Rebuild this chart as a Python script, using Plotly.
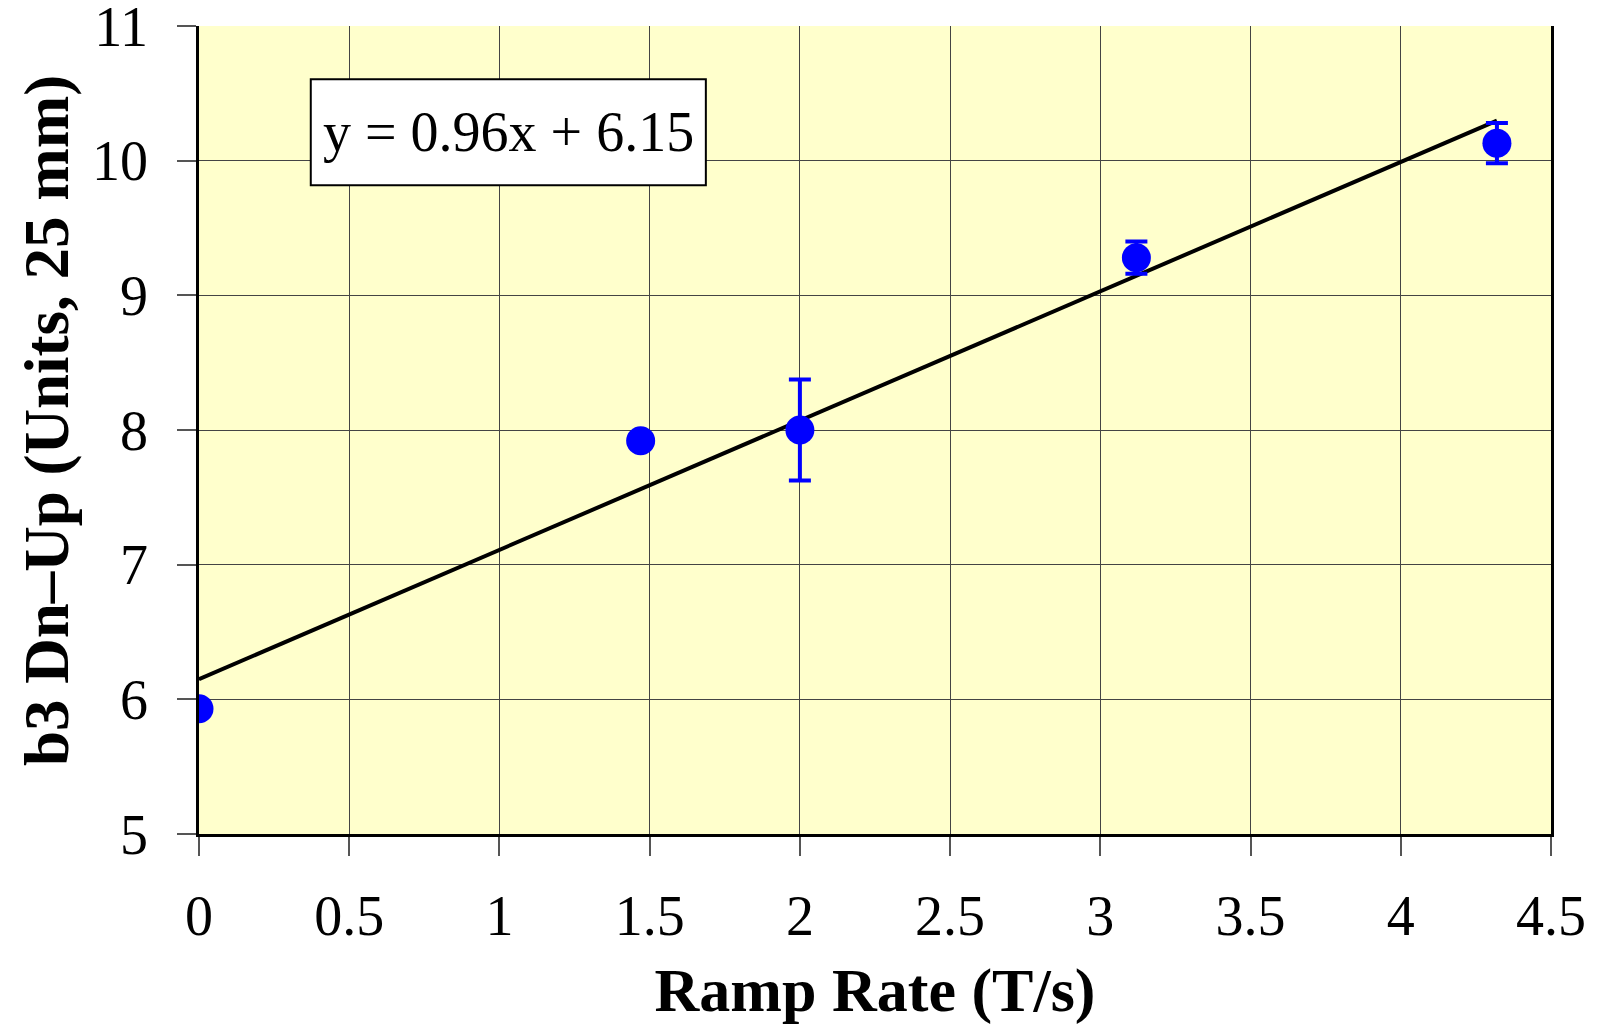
import plotly.graph_objects as go

# Data
ramp_rate = [0.0, 1.47, 2.0, 3.12, 4.32]
b3_dn_up = [5.93, 7.92, 8.0, 9.28, 10.13]
b3_err = [0.0, 0.0, 0.375, 0.12, 0.15]

# Linear trendline shown in the chart: y = 0.96x + 6.15
fit_slope = 0.96
fit_intercept = 6.15
fit_x = [min(ramp_rate), max(ramp_rate)]
fit_y = [fit_slope * v + fit_intercept for v in fit_x]
equation_text = "y = 0.96x + 6.15"

x_ticks = [0, 0.5, 1, 1.5, 2, 2.5, 3, 3.5, 4, 4.5]
y_ticks = [5, 6, 7, 8, 9, 10, 11]

x_title = "Ramp Rate (T/s)"
y_title = "b3 Dn\u2013Up (Units, 25 mm)"

FONT = "Liberation Serif, Times New Roman, serif"

fig = go.Figure()

fig.add_trace(go.Scatter(
    x=fit_x, y=fit_y, mode="lines",
    line=dict(color="black", width=4),
    showlegend=False, hoverinfo="skip",
))

fig.add_trace(go.Scatter(
    x=ramp_rate, y=b3_dn_up, mode="markers",
    marker=dict(color="#0000FF", size=29, line=dict(width=0)),
    error_y=dict(type="data", array=b3_err, visible=True,
                 color="#0000FF", thickness=4, width=11),
    showlegend=False,
))

# Equation box
fig.add_shape(type="rect", xref="x", yref="y",
              x0=0.372, x1=1.687, y0=9.818, y1=10.605,
              fillcolor="white", line=dict(color="black", width=2),
              layer="above")
fig.add_annotation(x=1.029, y=10.21, xref="x", yref="y",
                   text=equation_text, showarrow=False,
                   font=dict(family=FONT, size=56, color="black"),
                   xanchor="center", yanchor="middle")

# Y-axis title as a rotated annotation (placed in the left margin)
fig.add_annotation(x=0, y=0.5, xref="paper", yref="paper",
                   text=f"<b>{y_title}</b>", showarrow=False,
                   textangle=-90, xanchor="center", yanchor="middle",
                   xshift=-152, yshift=9,
                   font=dict(family=FONT, size=63, color="black"))

fig.update_layout(
    width=1597, height=1025,
    margin=dict(l=199, r=46, t=26, b=191),
    paper_bgcolor="white",
    plot_bgcolor="#FFFFCC",
    font=dict(family=FONT, color="black", size=56),
)

fig.update_xaxes(
    range=[0, 4.5], tickvals=x_ticks,
    ticktext=[f"{v:g}" for v in x_ticks],
    showgrid=True, gridcolor="#444444", gridwidth=1.2,
    showline=True, linecolor="black", linewidth=3,
    ticks="outside", ticklen=19, tickwidth=2, tickcolor="#555555",
    tickfont=dict(family=FONT, size=56, color="black"),
    ticklabelstandoff=12, ticklabeloverflow="allow",
    automargin=False,
    zeroline=False,
    title=dict(text=f"<b>{x_title}</b>",
               font=dict(family=FONT, size=62, color="black"),
               standoff=25),
)
fig.update_yaxes(
    range=[5, 11], tickvals=y_ticks,
    showgrid=True, gridcolor="#444444", gridwidth=1.2,
    showline=True, linecolor="black", linewidth=2.5, mirror=True,
    ticks="outside", ticklen=19, tickwidth=2, tickcolor="#555555",
    tickfont=dict(family=FONT, size=56, color="black"),
    ticklabelstandoff=18, ticklabeloverflow="allow",
    automargin=False,
    zeroline=False,
)

fig.write_html("out.html", config={"displayModeBar": False},
               post_script="document.body.style.margin='0';")
